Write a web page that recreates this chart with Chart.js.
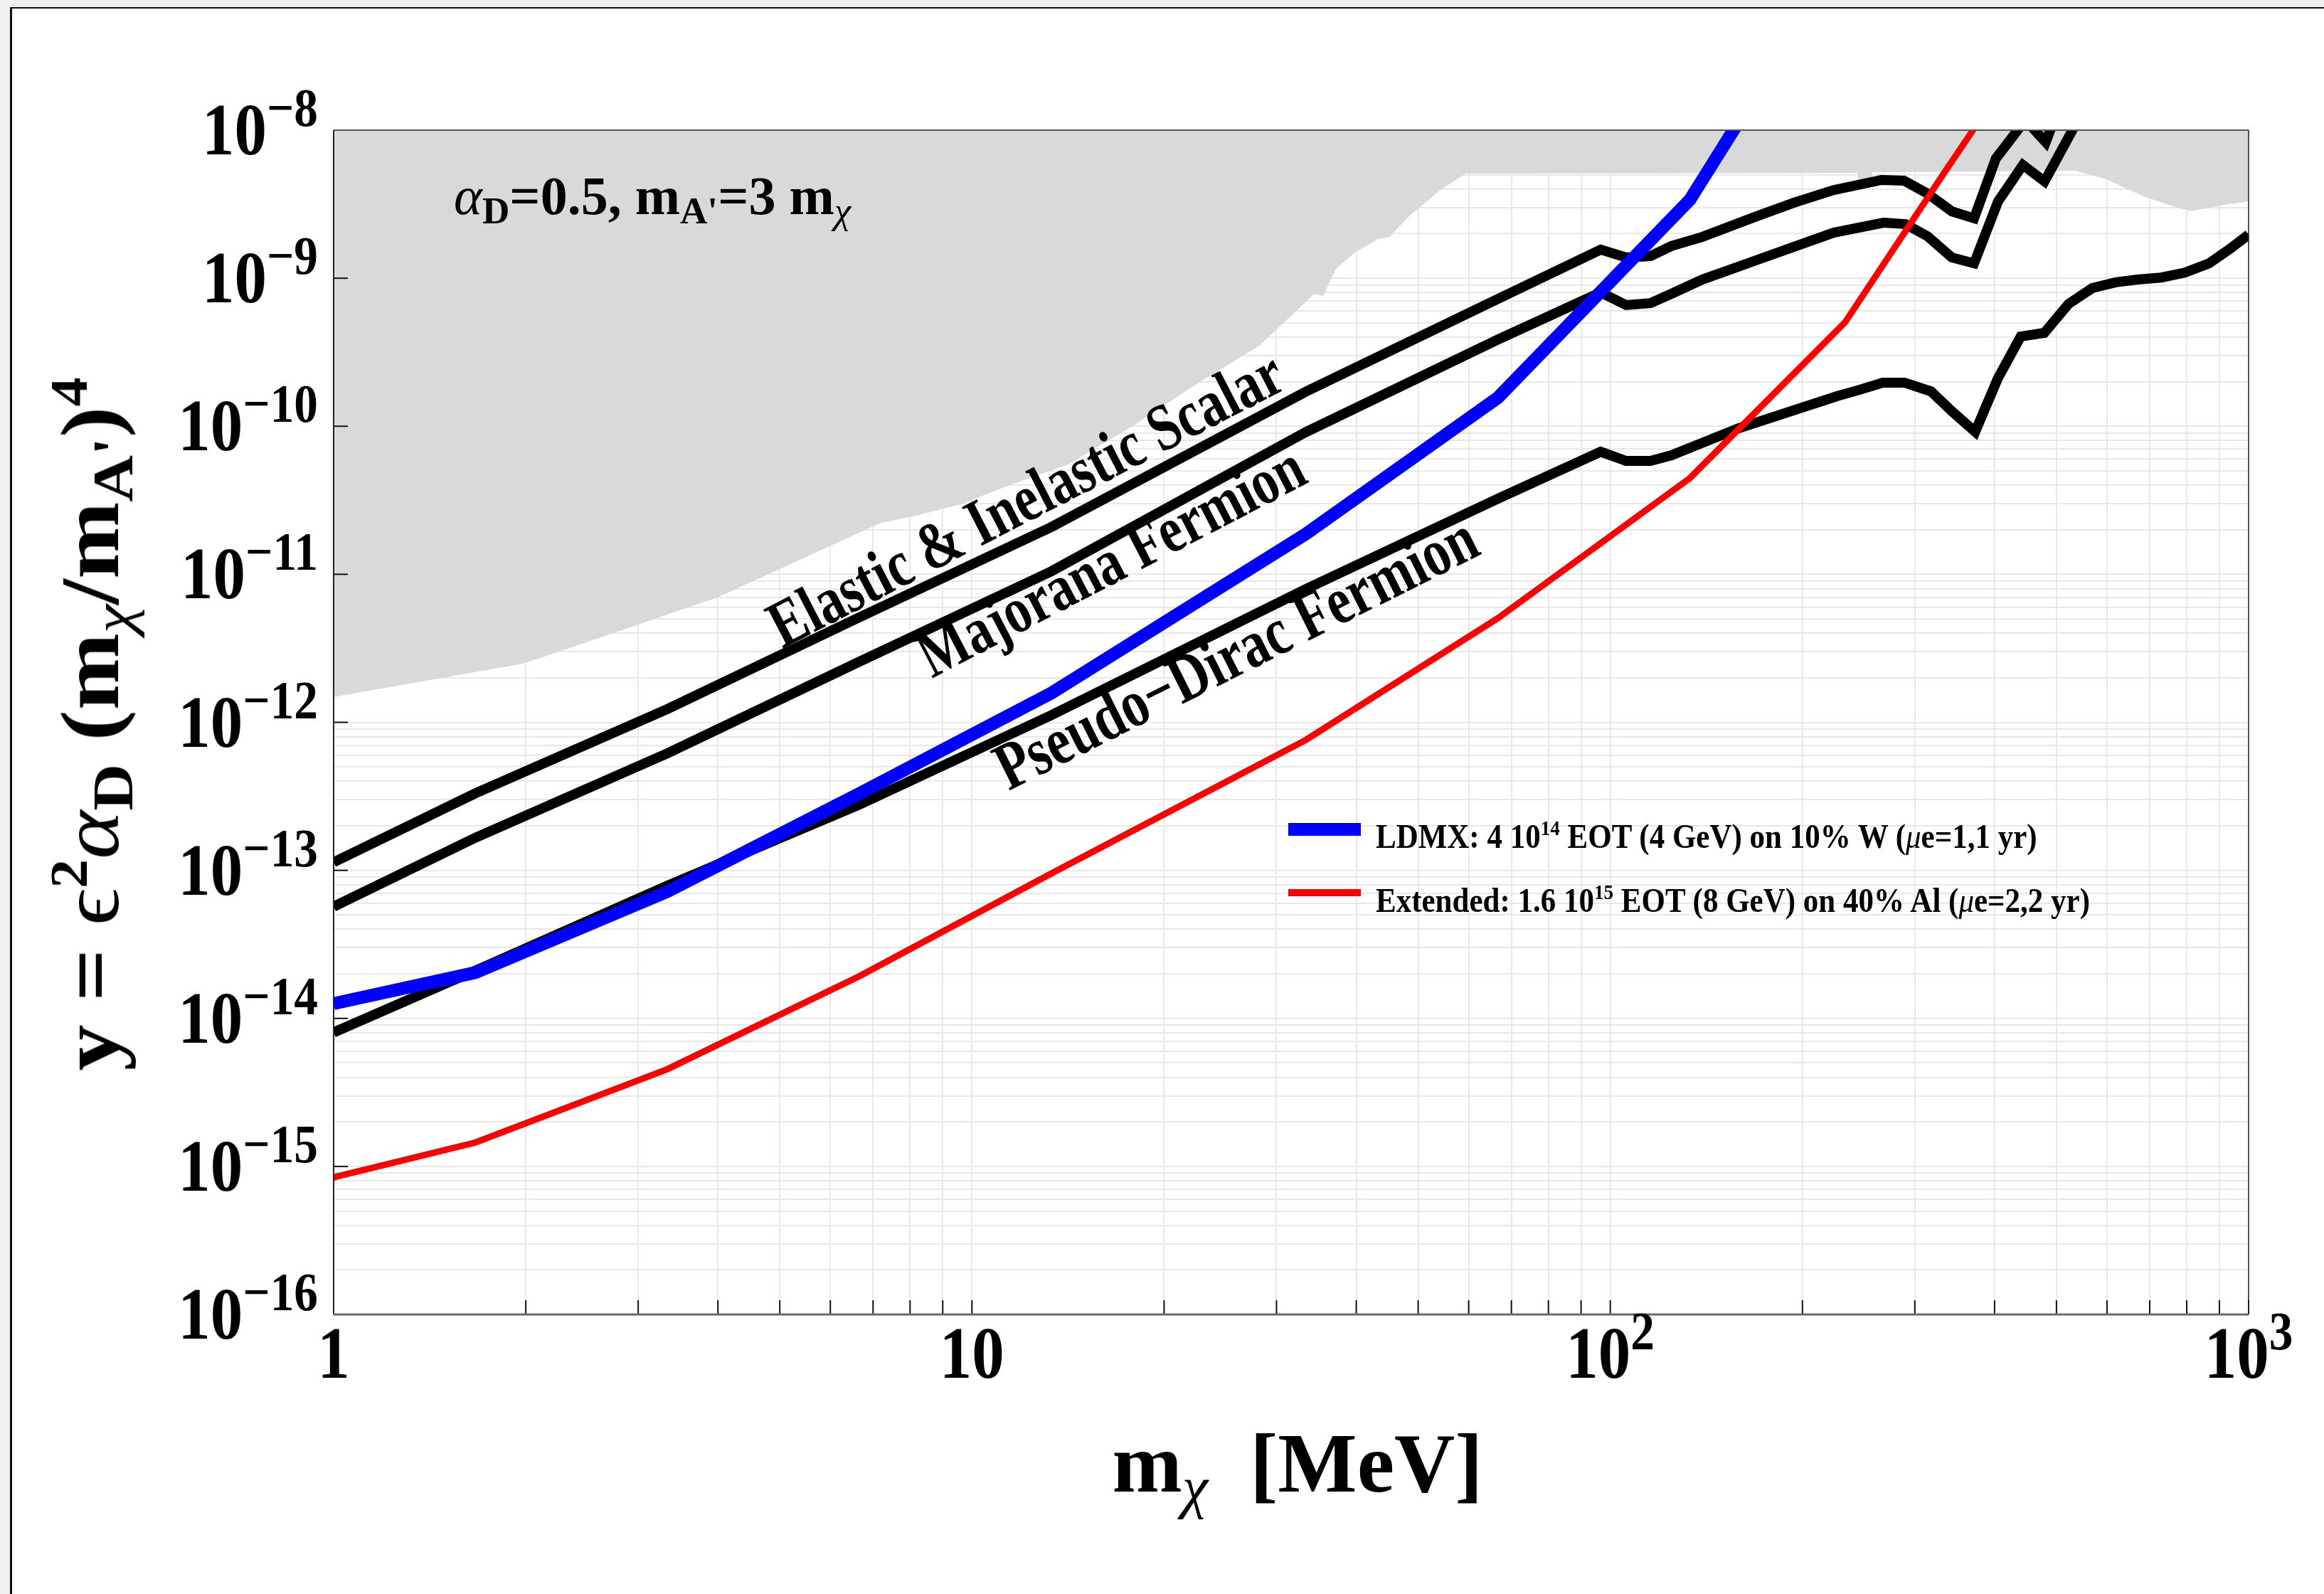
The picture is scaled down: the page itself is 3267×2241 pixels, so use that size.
<!DOCTYPE html>
<html>
<head>
<meta charset="utf-8">
<script src="https://cdn.jsdelivr.net/npm/chart.js@4.4.1/dist/chart.umd.min.js"></script>
<style>
    html, body { margin: 0; padding: 0; width: 3267px; height: 2241px; overflow: hidden; background: #f0f0f0; }
    #painel { position: absolute; left: 14px; top: 10px; width: 3400px; height: 2400px; background: #fff; border-left: 3px solid #111; border-top: 2px solid #111; }
    #GraficoLimites { position: absolute; left: 0; top: 0; }
    .txt { position: absolute; font-family: "Liberation Serif", "Times New Roman", serif; font-weight: bold; color: #000; white-space: nowrap; line-height: 1; }
    .txt sup { font-size: 0.63em; vertical-align: baseline; position: relative; top: -0.6em; line-height: 0; }
    .txt sub { font-size: 0.7em; vertical-align: baseline; position: relative; top: 0.25em; line-height: 0; }
    .tk sup { font-size: 0.74em; top: -0.54em; }
    .it { font-style: italic; font-weight: normal; }
    .rg { font-weight: normal; }
    .tk { font-size: 91px; }
    .amostra { position: absolute; }
</style>
</head>
<body>
<div id="painel"></div>
<canvas id="GraficoLimites" width="3267" height="2241"></canvas>
<div id="textos"></div>
<script>
// valores (m_chi em MeV, y adimensional)
var massaEscalar = [1, 1.667, 3.333, 6.667, 13.33, 33.33, 66.67, 96.6, 105.9, 115.6, 124.7, 139.3, 168.3, 194.1, 223.9, 266.1, 288.4, 314.1, 342.8, 371.5, 401.8, 447, 481, 520, 555];
var yEscalar = [1.135e-13, 3.31e-13, 1.23e-12, 5.13e-12, 2.09e-11, 1.71e-10, 7.24e-10, 1.56e-9, 1.38e-9, 1.41e-9, 1.65e-9, 1.90e-9, 2.59e-9, 3.24e-9, 3.94e-9, 4.61e-9, 4.56e-9, 3.73e-9, 2.83e-9, 2.54e-9, 6.43e-9, 1.17e-8, 8.3e-9, 2.0e-8, 4.0e-8];

var massaMajorana = [1, 1.667, 3.333, 6.667, 13.33, 33.33, 66.67, 96.6, 105.9, 115.6, 124.7, 139.3, 168.3, 194.1, 223.9, 268, 290, 314.1, 342.8, 371.5, 405, 443, 479, 526, 560];
var yMajorana = [5.69e-14, 1.66e-13, 6.17e-13, 2.57e-12, 1.05e-11, 9.12e-11, 3.85e-10, 8.02e-10, 6.58e-10, 6.79e-10, 7.85e-10, 9.79e-10, 1.31e-9, 1.63e-9, 2.03e-9, 2.37e-9, 2.32e-9, 1.92e-9, 1.38e-9, 1.26e-9, 3.30e-9, 5.82e-9, 4.51e-9, 9.46e-9, 1.58e-8];

var massaPseudoDirac = [1, 1.667, 3.333, 6.667, 13.33, 33.33, 66.67, 96.6, 105.9, 115.6, 124.7, 158.9, 227, 245.5, 267.3, 289, 318, 343, 373, 404.6, 439.5, 478.6, 522.4, 568.9, 619.4, 669.9, 729.5, 794.3, 867, 935, 1000];
var yPseudoDirac = [8.04e-15, 2.10e-14, 7.87e-14, 2.78e-13, 1.12e-12, 7.94e-12, 3.24e-11, 6.73e-11, 5.83e-11, 5.83e-11, 6.37e-11, 9.70e-11, 1.60e-10, 1.76e-10, 1.97e-10, 1.97e-10, 1.72e-10, 1.26e-10, 9.18e-11, 2.10e-10, 4.04e-10, 4.27e-10, 6.71e-10, 8.57e-10, 9.38e-10, 9.79e-10, 1.01e-9, 1.09e-9, 1.26e-9, 1.58e-9, 1.97e-9];

var massaLDMX = [1, 1.667, 3.333, 6.667, 13.33, 33.33, 66.67, 133.3, 233.3];
var yLDMX = [1.26e-14, 2.04e-14, 7.19e-14, 3.31e-13, 1.58e-12, 1.87e-11, 1.56e-10, 3.39e-9, 1.6e-7];

var massaEstendido = [1, 1.667, 3.333, 6.667, 13.33, 33.33, 66.67, 133.3, 233.3, 333.3, 433.3];
var yEstendido = [8.45e-16, 1.45e-15, 4.54e-15, 1.93e-14, 9.55e-14, 7.59e-13, 5.05e-12, 4.47e-11, 5.05e-10, 5.13e-9, 2.75e-8];

// regiao cinza ja excluida (borda inferior)
var massaExcluida = [1, 1.98, 2.14, 3.99, 7.19, 8.15, 9.6, 11.3, 14.2, 17.9, 22.8, 28.2, 34.4, 35.5, 37.2, 39.8, 43.3, 45.1, 48.4, 54.3, 59.4, 244, 245, 256, 257, 535, 597, 687, 769, 813, 914, 1000];
var yExcluida = [1.48e-12, 2.49e-12, 2.78e-12, 6.97e-12, 2.22e-11, 2.48e-11, 2.96e-11, 3.92e-11, 5.57e-11, 1.01e-10, 2.0e-10, 3.50e-10, 7.85e-10, 7.59e-10, 1.16e-9, 1.49e-9, 1.84e-9, 1.90e-9, 2.62e-9, 3.98e-9, 5.09e-9, 5.13e-9, 4.12e-9, 4.12e-9, 5.19e-9, 5.32e-9, 4.68e-9, 3.55e-9, 3.02e-9, 2.84e-9, 3.12e-9, 3.31e-9];

// rotulos dos eixos
var xTicksValor = [1, 10, 100, 1000];
var xTicksBase = ["1", "10", "10", "10"];
var xTicksExpoente = ["", "", "2", "3"];
var yTicksExpoente = [-8, -9, -10, -11, -12, -13, -14, -15, -16];

var legendaTextos = [
    'LDMX: 4 10<sup>14</sup> EOT (4 GeV) on 10% W (<span class="it">&mu;</span>e=1,1 yr)',
    'Extended: 1.6 10<sup>15</sup> EOT (8 GeV) on 40% Al (<span class="it">&mu;</span>e=2,2 yr)'
];

function pares(xs, ys) {
    return xs.map(function (x, i) { return { x: x, y: ys[i] }; });
}

function ticksLog(expMin, expMax) {
    var t = [];
    for (var e = expMin; e < expMax; e++) {
        for (var d = 1; d < 10; d++) t.push({ value: d * Math.pow(10, e) });
    }
    t.push({ value: Math.pow(10, expMax) });
    return t;
}

var molduraPlugin = {
    id: 'moldura',
    afterDatasetsDraw: function (chart) {
        var ctx = chart.ctx, a = chart.chartArea, sx = chart.scales.x, sy = chart.scales.y;
        ctx.save();
        ctx.strokeStyle = '#111';
        ctx.lineWidth = 2;
        sx.ticks.forEach(function (t) {
            var px = sx.getPixelForValue(t.value);
            ctx.beginPath(); ctx.moveTo(px, a.bottom); ctx.lineTo(px, a.bottom - 20); ctx.stroke();
        });
        yTicksExpoente.forEach(function (e) {
            var py = sy.getPixelForValue(Math.pow(10, e));
            ctx.beginPath(); ctx.moveTo(a.left, py); ctx.lineTo(a.left + 20, py); ctx.stroke();
        });
        ctx.strokeStyle = '#555'; ctx.lineWidth = 2;
        ctx.beginPath(); ctx.moveTo(a.left, a.top); ctx.lineTo(a.right, a.top); ctx.stroke();
        ctx.strokeStyle = '#222'; ctx.lineWidth = 2;
        ctx.beginPath(); ctx.moveTo(a.left, a.top); ctx.lineTo(a.left, a.bottom); ctx.stroke();
        ctx.lineWidth = 1.5;
        ctx.beginPath(); ctx.moveTo(a.right, a.top); ctx.lineTo(a.right, a.bottom); ctx.stroke();
        ctx.strokeStyle = '#6a6a6a'; ctx.lineWidth = 3;
        ctx.beginPath(); ctx.moveTo(a.left, a.bottom); ctx.lineTo(a.right, a.bottom); ctx.stroke();
        ctx.restore();
    }
};

var linhaBase = { pointRadius: 0, tension: 0, fill: false, borderJoinStyle: 'miter', borderCapStyle: 'butt' };

var ctx = document.getElementById("GraficoLimites").getContext("2d");
var grafico = new Chart(ctx, {
    type: 'line',
    data: {
        datasets: [
            Object.assign({}, linhaBase, { label: "Excluido", data: pares(massaExcluida, yExcluida), borderWidth: 0, borderColor: 'rgba(0,0,0,0)', backgroundColor: '#d9d9d9', fill: 'end', order: 10 }),
            Object.assign({}, linhaBase, { label: "Elastic & Inelastic Scalar", data: pares(massaEscalar, yEscalar), borderColor: '#000', borderWidth: 14, order: 5 }),
            Object.assign({}, linhaBase, { label: "Majorana Fermion", data: pares(massaMajorana, yMajorana), borderColor: '#000', borderWidth: 14, order: 5 }),
            Object.assign({}, linhaBase, { label: "Pseudo-Dirac Fermion", data: pares(massaPseudoDirac, yPseudoDirac), borderColor: '#000', borderWidth: 14, order: 5 }),
            Object.assign({}, linhaBase, { label: "LDMX", data: pares(massaLDMX, yLDMX), borderColor: '#0000ff', borderWidth: 18, order: 2 }),
            Object.assign({}, linhaBase, { label: "Extended", data: pares(massaEstendido, yEstendido), borderColor: '#ff0000', borderWidth: 9, order: 1 })
        ]
    },
    options: {
        responsive: false,
        animation: false,
        devicePixelRatio: 1,
        layout: { padding: { left: 469, top: 183, right: 106, bottom: 393 } },
        plugins: { legend: { display: false }, tooltip: { enabled: false } },
        scales: {
            x: {
                type: 'logarithmic', min: 1, max: 1000,
                afterBuildTicks: function (s) { s.ticks = ticksLog(0, 3); },
                afterFit: function (s) { s.height = 0; },
                ticks: { display: false, autoSkip: false },
                grid: { color: '#e8e8e8', lineWidth: 2, drawTicks: false },
                border: { display: false }
            },
            y: {
                type: 'logarithmic', min: 1e-16, max: 1e-8,
                afterBuildTicks: function (s) { s.ticks = ticksLog(-16, -8); },
                afterFit: function (s) { s.width = 0; },
                ticks: { display: false, autoSkip: false },
                grid: { color: '#e8e8e8', lineWidth: 2, drawTicks: false },
                border: { display: false }
            }
        }
    },
    plugins: [molduraPlugin]
});

// textos em HTML posicionados pelas escalas
var textos = document.getElementById("textos");
function novoTexto(html, estilo, classe) {
    var d = document.createElement("div");
    d.className = "txt " + (classe || "");
    d.innerHTML = html;
    d.setAttribute("style", estilo);
    textos.appendChild(d);
    return d;
}

var escX = grafico.scales.x, escY = grafico.scales.y, area = grafico.chartArea;
xTicksValor.forEach(function (v, i) {
    var html = xTicksBase[i] + (xTicksExpoente[i] ? "<sup>" + xTicksExpoente[i] + "</sup>" : "");
    novoTexto(html, "left:" + escX.getPixelForValue(v) + "px;top:" + (area.bottom + 55) + "px;transform:translate(-50%,-50%) scaleY(1.13);", "tk");
});
yTicksExpoente.forEach(function (e) {
    novoTexto("10<sup>&minus;" + (-e) + "</sup>", "left:447px;top:" + escY.getPixelForValue(Math.pow(10, e)) + "px;transform:translate(-100%,-50%) scaleY(1.13);", "tk");
});

// titulos dos eixos
novoTexto('m<sub class="it">&chi;</sub>&nbsp; [MeV]', "left:1824px;top:1999px;font-size:118px;transform:translate(-50%,0);");
novoTexto('y = <span class="rg">&#1013;</span><sup>2</sup><span class="it">&alpha;</span><sub>D</sub> (m<sub class="it">&chi;</sub>/m<sub>A\'</sub>)<sup>4</sup>',
    "left:127px;top:1018px;font-size:116px;transform:translate(-50%,-50%) rotate(-90deg) scaleX(1.12);");

// anotacao
novoTexto('<span class="it">&alpha;</span><sub>D</sub>=0.5, m<sub>A\'</sub>=3 m<sub class="it">&chi;</sub>', "left:638px;top:237px;font-size:76px;");

// rotulos das curvas
function rotuloCurva(texto, x, y, ang, tam) {
    var b = Math.round(tam * 0.8375);
    novoTexto(texto, "left:" + x + "px;top:" + (y - b) + "px;font-size:" + tam + "px;transform-origin:0 " + b + "px;transform:rotate(" + (-ang) + "deg) scale(0.95,1.2);");
}
rotuloCurva("Elastic &amp; Inelastic Scalar", 1100, 912, 27.3, 78);
rotuloCurva("Majorana Fermion", 1310, 954, 27.5, 77);
rotuloCurva("Pseudo&minus;Dirac Fermion", 1418, 1112, 26.6, 79);

// legenda
var corLegenda = [grafico.data.datasets[4].borderColor, grafico.data.datasets[5].borderColor];
var amostraTopo = [1157, 1250], amostraAltura = [18, 10], legTopo = [1156, 1246];
legendaTextos.forEach(function (t, i) {
    var s = document.createElement("div");
    s.className = "amostra";
    s.setAttribute("style", "left:1811px;top:" + amostraTopo[i] + "px;width:102px;height:" + amostraAltura[i] + "px;background:" + corLegenda[i] + ";");
    textos.appendChild(s);
    novoTexto(t, "left:1934px;top:" + legTopo[i] + "px;font-size:43px;transform-origin:0 36px;transform:scaleY(1.12);");
});
</script>
</body>
</html>
